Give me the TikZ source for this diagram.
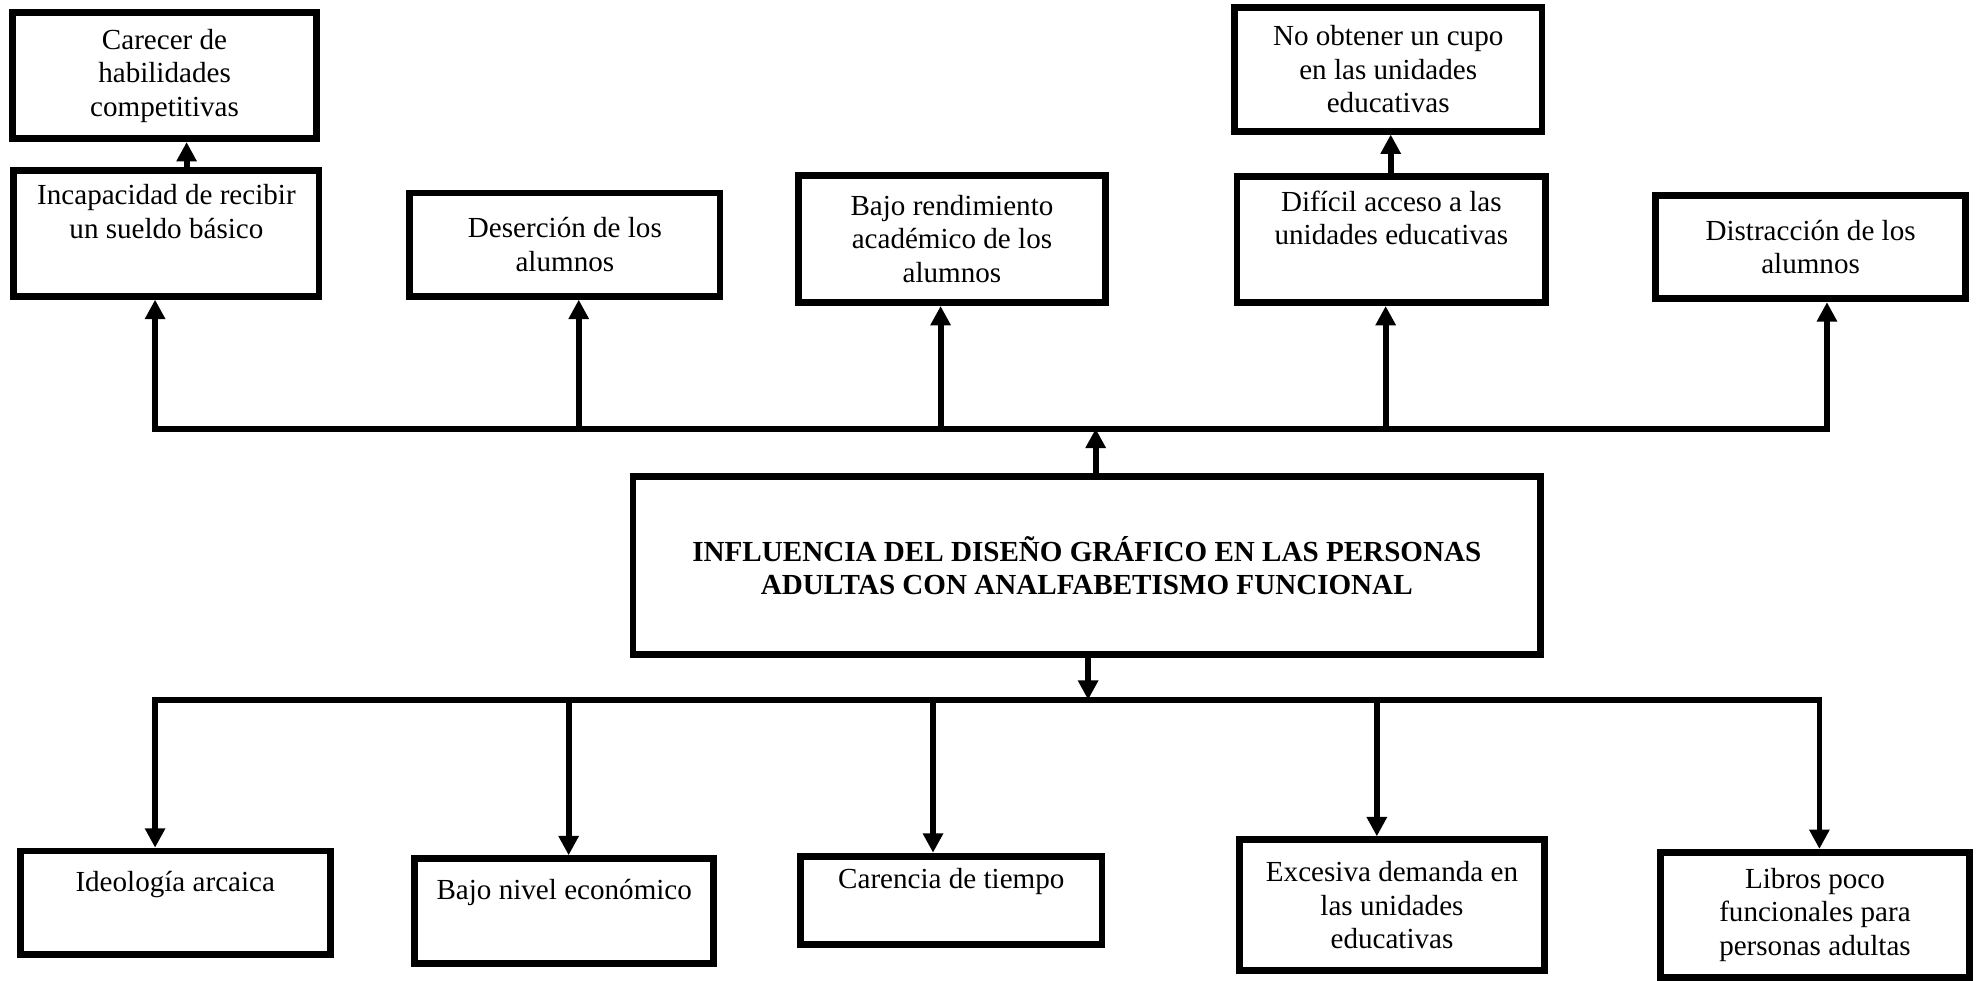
\documentclass[tikz,border=0pt]{standalone}
\usepackage{fontspec}
\setmainfont{Liberation Serif}
\usetikzlibrary{arrows.meta}
\newcommand{\pxu}{0.52pt}

\tikzset{
  caja/.style 2 args={draw, line width=2.8pt, minimum width=#1*\pxu, minimum height=#2*\pxu,
    inner sep=2pt, align=center, font=\fontsize{12}{13.8}\selectfont},
  flecha/.style={line width=2.4pt, -{Triangle[length=8pt,width=8pt]}},
  linea/.style={line width=2.4pt, line cap=rect}
}

\begin{document}
\begin{tikzpicture}[x=\pxu, y=-\pxu]
\useasboundingbox (0,0) rectangle (1568,778);

\node [caja={720}{141}, font=\fontsize{12}{13.8}\selectfont\bfseries] (cen) at (862,448.5)
  {INFLUENCIA DEL DISEÑO GRÁFICO EN LAS PERSONAS\\ADULTAS CON ANALFABETISMO FUNCIONAL};

\node [caja={241}{100}] (car) at (130.5,60) {Carecer de\\habilidades\\competitivas};
\node [caja={242}{100}] (inc) at (132,185) {Incapacidad de recibir\\un sueldo básico\\\strut};
\node [caja={246}{82}] (des) at (448,194) {Deserción de los\\alumnos};
\node [caja={244}{101}] (baj) at (755,189.5) {Bajo rendimiento\\académico de los\\alumnos};
\node [caja={244}{98}] (noo) at (1101,55) {No obtener un cupo\\en las unidades\\educativas};
\node [caja={245}{100}] (dif) at (1103.5,190) {Difícil acceso a las\\unidades educativas\\\strut};
\node [caja={246}{82}] (dis) at (1436,196) {Distracción de los\\alumnos};

\node [caja={246}{82}] (ide) at (139,716) {Ideología arcaica\\\strut};
\node [caja={237}{83}] (niv) at (447.5,722.5) {Bajo nivel económico\\\strut};
\node [caja={239}{70}] (tie) at (754.5,714) {Carencia de tiempo\\\strut};
\node [caja={242}{104}] (exc) at (1104,718) {Excesiva demanda en\\las unidades\\educativas};
\node [caja={245}{99}] (lib) at (1439.5,725.5) {Libros poco\\funcionales para\\personas adultas};

\coordinate (a1) at (123,340);
\coordinate (a2) at (459,340);
\coordinate (a3) at (746,340);
\coordinate (a4) at (1099,340);
\coordinate (a5) at (1449,340);
\coordinate (ac) at (869,340);

\coordinate (b1) at (123,555);
\coordinate (b2) at (451,555);
\coordinate (b3) at (740,555);
\coordinate (b4) at (1092,555);
\coordinate (b5) at (1443,555);
\coordinate (bc) at (863,555);

\draw [linea] (a1) -- (a5);
\draw [flecha] (cen.north -| ac) -- (ac);
\foreach \i/\n in {1/inc,2/des,3/baj,4/dif,5/dis}
  \draw [flecha] (a\i) -- (a\i |- \n.south);
\draw [flecha] (148,0 |- inc.north) -- (148,0 |- car.south);
\draw [flecha] (1103,0 |- dif.north) -- (1103,0 |- noo.south);

\draw [flecha] (cen.south -| bc) -- (bc);
\draw [linea] (b1) -- (b5);
\foreach \i/\n in {1/ide,2/niv,3/tie,4/exc,5/lib}
  \draw [flecha] (b\i) -- (b\i |- \n.north);
\end{tikzpicture}
\end{document}
